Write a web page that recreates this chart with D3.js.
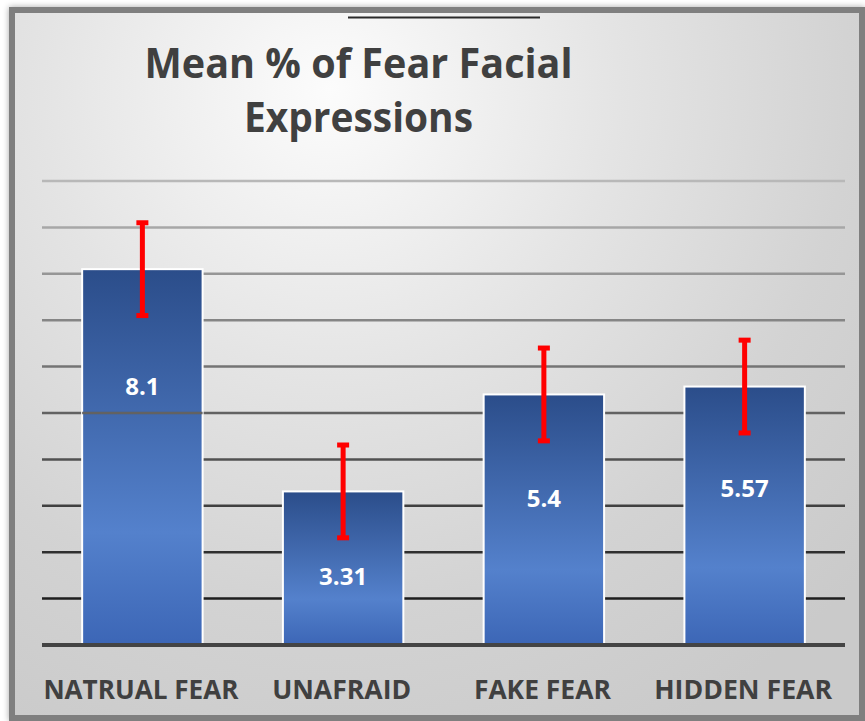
<!DOCTYPE html>
<html>
<head>
<meta charset="utf-8">
<script src="https://cdn.jsdelivr.net/npm/d3@7"></script>
<style>
  html, body { margin: 0; padding: 0; background: #fff; }
  svg { display: block; }
</style>
</head>
<body>
<svg id="chart" width="865" height="721"></svg>
<script>
// chart values
const categories = ["NATRUAL FEAR", "UNAFRAID", "FAKE FEAR", "HIDDEN FEAR"];
const means = [8.1, 3.31, 5.4, 5.57];
const errors = [1.0, 1.0, 1.0, 1.0];
const valueLabels = ["8.1", "3.31", "5.4", "5.57"];
// where the value label sits, in data units
const labelAt = [5.58, 1.49, 3.17, 3.38];
const gridValues = [1, 2, 3, 4, 5, 6, 7, 8, 9, 10];
const titleLines = ["Mean % of Fear Facial", "Expressions"];

const svg = d3.select("#chart");
const W = +svg.attr("width");
const H = +svg.attr("height");

const defs = svg.append("defs");

// background gradient (light top-left to grey bottom-right)
const bg = defs.append("radialGradient")
  .attr("id", "bgGrad")
  .attr("gradientUnits", "userSpaceOnUse")
  .attr("cx", 330).attr("cy", 90).attr("r", 720);
bg.append("stop").attr("offset", "0%").attr("stop-color", "#fcfcfc");
bg.append("stop").attr("offset", "40%").attr("stop-color", "#e4e4e4");
bg.append("stop").attr("offset", "72%").attr("stop-color", "#d3d3d3");
bg.append("stop").attr("offset", "100%").attr("stop-color", "#cacaca");

// bar gradient
const barGrad = defs.append("linearGradient")
  .attr("id", "barGrad")
  .attr("x1", 0).attr("y1", 0).attr("x2", 0).attr("y2", 1);
barGrad.append("stop").attr("offset", "0%").attr("stop-color", "#2b4d8a");
barGrad.append("stop").attr("offset", "70%").attr("stop-color", "#5481cc");
barGrad.append("stop").attr("offset", "100%").attr("stop-color", "#3c66b6");

const shadow = defs.append("filter").attr("id", "shadow")
  .attr("x", "-5%").attr("y", "-5%").attr("width", "110%").attr("height", "110%");
shadow.append("feDropShadow")
  .attr("dx", 0).attr("dy", 0).attr("stdDeviation", 3)
  .attr("flood-color", "#000").attr("flood-opacity", 0.35);

// frame
svg.append("rect")
  .attr("x", 12).attr("y", 10).attr("width", W - 15).attr("height", H - 13)
  .attr("fill", "url(#bgGrad)")
  .attr("stroke", "#7f7f7f")
  .attr("stroke-width", 6)
  .attr("filter", "url(#shadow)");

// little dark line at the top
svg.append("line")
  .attr("x1", 348).attr("x2", 540)
  .attr("y1", 17.5).attr("y2", 17.5)
  .attr("stroke", "#2a2a2a")
  .attr("stroke-width", 2);

// scales
const x = d3.scaleBand()
  .domain(categories)
  .range([42, 845])
  .paddingInner(0.4)
  .paddingOuter(0.2);

const y = d3.scaleLinear()
  .domain([0, 10])
  .range([645, 181]);

// gridline shade darkens toward the bottom
const gridColor = d3.scaleLinear()
  .domain([1, 10])
  .range(["#1e1e1e", "#b8b8b8"]);

const g = svg.append("g");

g.selectAll("line.grid")
  .data(gridValues)
  .join("line")
  .attr("class", "grid")
  .attr("x1", 42).attr("x2", 845)
  .attr("y1", d => y(d)).attr("y2", d => y(d))
  .attr("stroke", d => gridColor(d))
  .attr("stroke-width", 2.5);

// bars
g.selectAll("rect.bar")
  .data(means)
  .join("rect")
  .attr("class", "bar")
  .attr("x", (d, i) => x(categories[i]))
  .attr("width", x.bandwidth())
  .attr("y", d => y(d))
  .attr("height", d => y(0) - y(d))
  .attr("fill", "url(#barGrad)")
  .attr("stroke", "#ffffff")
  .attr("stroke-width", 2);

// the value-5 gridline shows through the first bar in the original
g.append("line")
  .attr("x1", x(categories[0])).attr("x2", x(categories[0]) + x.bandwidth())
  .attr("y1", y(5)).attr("y2", y(5))
  .attr("stroke", gridColor(5))
  .attr("stroke-width", 2.5);

// baseline
g.append("line")
  .attr("x1", 42).attr("x2", 845)
  .attr("y1", y(0)).attr("y2", y(0))
  .attr("stroke", "#444")
  .attr("stroke-width", 4);

// error bars
const cx = i => x(categories[i]) + x.bandwidth() / 2;
const err = g.selectAll("g.err")
  .data(means)
  .join("g")
  .attr("class", "err");

err.append("line")
  .attr("x1", (d, i) => cx(i)).attr("x2", (d, i) => cx(i))
  .attr("y1", (d, i) => y(d + errors[i]))
  .attr("y2", (d, i) => y(d - errors[i]))
  .attr("stroke", "#ff0000")
  .attr("stroke-width", 5);

err.append("rect")
  .attr("x", (d, i) => cx(i) - 6)
  .attr("y", (d, i) => y(d + errors[i]) - 2.5)
  .attr("width", 12).attr("height", 5)
  .attr("fill", "#ff0000");

err.append("rect")
  .attr("x", (d, i) => cx(i) - 6)
  .attr("y", (d, i) => y(d - errors[i]) - 2.5)
  .attr("width", 12).attr("height", 5)
  .attr("fill", "#ff0000");

// value labels
g.selectAll("text.value")
  .data(valueLabels)
  .join("text")
  .attr("class", "value")
  .attr("x", (d, i) => cx(i))
  .attr("y", (d, i) => y(labelAt[i]))
  .attr("dy", "0.36em")
  .attr("text-anchor", "middle")
  .attr("fill", "#ffffff")
  .style("font-family", "'Open Sans', sans-serif")
  .style("font-weight", "bold")
  .style("font-size", "24px")
  .text(d => d);

// category labels
const labelWidths = [195, 139, 137, 178];
g.selectAll("text.cat")
  .data(categories)
  .join("text")
  .attr("class", "cat")
  .attr("x", d => x(d) + x.bandwidth() / 2 - 1.5)
  .attr("y", 699)
  .attr("text-anchor", "middle")
  .attr("fill", "#404040")
  .attr("textLength", (d, i) => labelWidths[i])
  .attr("lengthAdjust", "spacingAndGlyphs")
  .style("font-family", "'Open Sans', sans-serif")
  .style("font-weight", "bold")
  .style("font-size", "26px")
  .text(d => d);

// title
const titleWidths = [428, 229];
svg.selectAll("text.title")
  .data(titleLines)
  .join("text")
  .attr("class", "title")
  .attr("x", 358.5)
  .attr("y", (d, i) => 78 + i * 54)
  .attr("text-anchor", "middle")
  .attr("fill", "#404040")
  .attr("textLength", (d, i) => titleWidths[i])
  .attr("lengthAdjust", "spacingAndGlyphs")
  .style("font-family", "'Open Sans', sans-serif")
  .style("font-weight", "bold")
  .style("font-size", "42px")
  .text(d => d);
</script>
</body>
</html>
